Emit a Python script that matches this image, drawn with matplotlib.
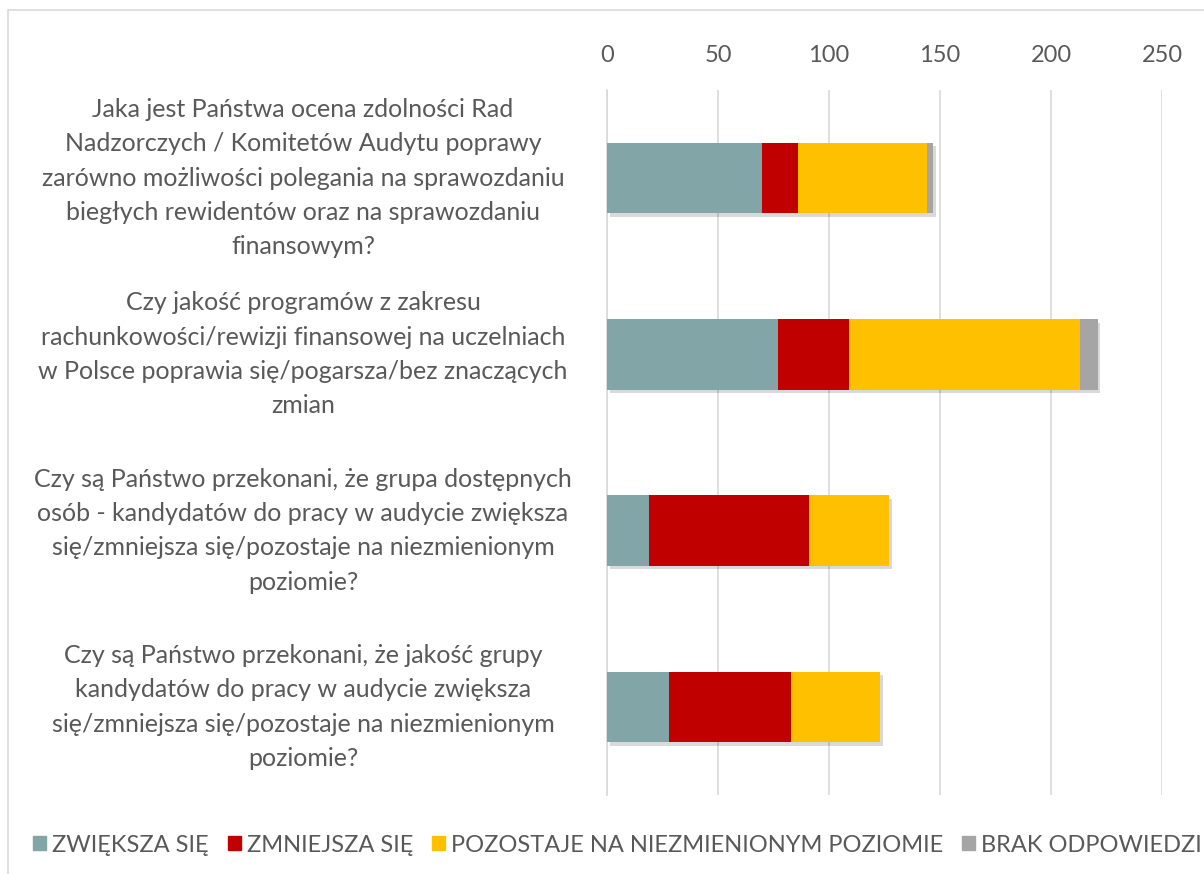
import matplotlib.pyplot as plt
import matplotlib.patches as mpatches
import matplotlib.patheffects as pe
import numpy as np

plt.rcParams["font.family"] = ["Lato", "DejaVu Sans"]

QUESTIONS = [
    "Jaka jest Państwa ocena zdolności Rad\nNadzorczych / Komitetów Audytu poprawy\n"
    "zarówno możliwości polegania na sprawozdaniu\nbiegłych rewidentów oraz na sprawozdaniu\nfinansowym?",
    "Czy jakość programów z zakresu\nrachunkowości/rewizji finansowej na uczelniach\n"
    "w Polsce poprawia się/pogarsza/bez znaczących\nzmian",
    "Czy są Państwo przekonani, że grupa dostępnych\nosób - kandydatów do pracy w audycie zwiększa\n"
    "się/zmniejsza się/pozostaje na niezmienionym\npoziomie?",
    "Czy są Państwo przekonani, że jakość grupy\nkandydatów do pracy w audycie zwiększa\n"
    "się/zmniejsza się/pozostaje na niezmienionym\npoziomie?",
]
SERIES = ["ZWIĘKSZA SIĘ", "ZMNIEJSZA SIĘ", "POZOSTAJE NA NIEZMIENIONYM POZIOMIE", "BRAK ODPOWIEDZI"]
COLORS = ["#82a5a8", "#c00000", "#ffc000", "#a5a5a5"]
zwieksza = [70, 77, 19, 28]
zmniejsza = [16, 32, 72, 55]
pozostaje = [58, 104, 36, 40]
brak = [3, 8, 0, 0]
XTICKS = [0, 50, 100, 150, 200, 250]

TXT = "#595959"

fig = plt.figure(figsize=(12.04, 8.74), dpi=100, facecolor="white")
ax = fig.add_axes([607 / 1204, 1 - 795 / 874, (1162 - 607) / 1204, (795 - 90) / 874])

y = np.arange(len(QUESTIONS))
left = np.zeros(len(QUESTIONS))
shadow = [pe.SimplePatchShadow(offset=(2, -2.5), shadow_rgbFace="#000000", alpha=0.15), pe.Normal()]
for vals, name, col in zip([zwieksza, zmniejsza, pozostaje, brak], SERIES, COLORS):
    bars = ax.barh(y, vals, left=left, height=0.4, color=col, label=name, zorder=3)
    for b in bars:
        b.set_path_effects(shadow)
    left += np.array(vals)

ax.set_xlim(0, 250)
ax.set_ylim(len(QUESTIONS) - 0.5, -0.5)
ax.set_xticks(XTICKS)
ax.xaxis.tick_top()
ax.tick_params(axis="x", length=0, pad=17, labelsize=17, labelcolor=TXT)
ax.set_yticks([])
ax.grid(axis="x", color="#d9d9d9", linewidth=1.2, zorder=0)
for s in ["top", "right", "bottom"]:
    ax.spines[s].set_visible(False)
ax.spines["left"].set_color("#d9d9d9")
ax.spines["left"].set_linewidth(1.2)

for yi, q in zip(y, QUESTIONS):
    fig.text(303 / 1204, 1 - (90 + (yi + 0.5) * 176.25) / 874, q, ha="center", va="center",
             multialignment="center", fontsize=18, color=TXT, linespacing=1.6)

handles = [mpatches.Patch(color=c, label=n) for c, n in zip(COLORS, SERIES)]
fig.legend(handles=handles, loc="center left", bbox_to_anchor=(24 / 1204, 1 - 845 / 874), ncol=4,
           frameon=False, fontsize=17, labelcolor=TXT, handlelength=0.55, handleheight=0.55,
           handletextpad=0.25, columnspacing=0.8, borderaxespad=0)

fig.patches.append(mpatches.Rectangle((8 / 1204, -0.01), 1.1, 1 - 10 / 874 + 0.01, transform=fig.transFigure,
                                      fill=False, edgecolor="#d9d9d9", linewidth=1.2))

fig.savefig("out.png", dpi=100, facecolor="white")
